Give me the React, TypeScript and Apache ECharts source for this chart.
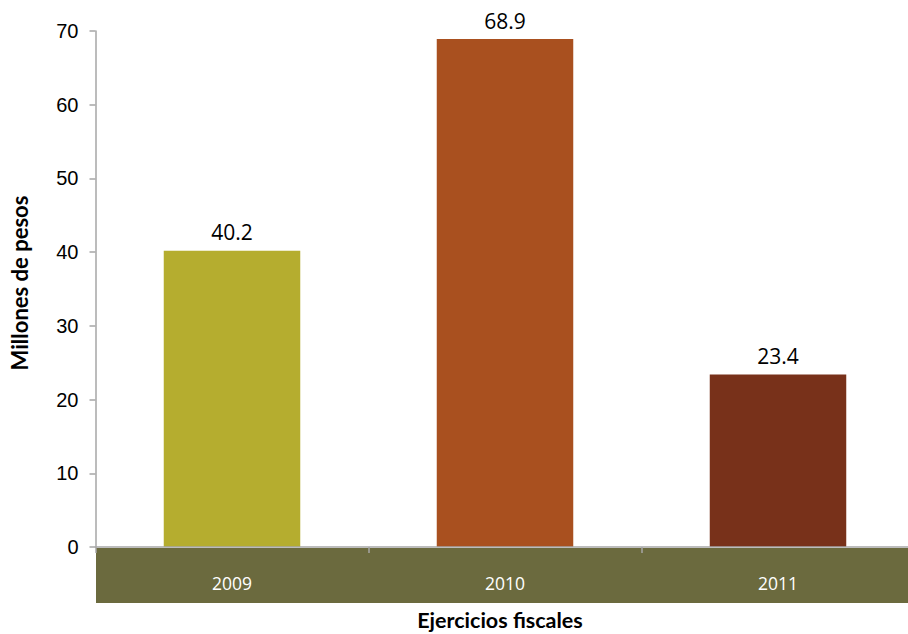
import React, { useEffect, useRef } from "react";
import * as echarts from "echarts";

const categories = ["2009", "2010", "2011"];
const values = [40.2, 68.9, 23.4];
const barColors = ["#B5AD2F", "#A9501F", "#78311A"];
const yTicks = [0, 10, 20, 30, 40, 50, 60, 70];
const xTitle = "Ejercicios fiscales";
const yTitle = "Millones de pesos";

export default function App() {
  const ref = useRef<HTMLDivElement>(null);
  useEffect(() => {
    if (!ref.current) return;
    const chart = echarts.init(ref.current, null, { renderer: "svg" });
    chart.setOption({
      animation: false,
      backgroundColor: "#ffffff",
      grid: { left: 95.5, top: 31, bottom: 87, right: 1.5, containLabel: false },
      xAxis: {
        type: "category",
        data: categories,
        z: 5,
        axisLine: { show: true, lineStyle: { color: "#a6a6a6", width: 1.5 } },
        axisTick: { show: true, length: 6, lineStyle: { color: "#a6a6a6", width: 1.5 } },
        axisLabel: {
          color: "#ffffff",
          fontFamily: "Open Sans",
          fontSize: 17.5,
          margin: 27,
        },
      },
      yAxis: {
        type: "value",
        min: yTicks[0],
        max: yTicks[yTicks.length - 1],
        interval: 10,
        splitLine: { show: false },
        axisLine: { show: true, lineStyle: { color: "#a6a6a6", width: 1.5 } },
        axisTick: { show: true, length: 6, lineStyle: { color: "#a6a6a6", width: 1.5 } },
        axisLabel: {
          color: "#000000",
          fontFamily: "Liberation Sans",
          fontSize: 20,
          margin: 17,
        },
      },
      graphic: [
        {
          type: "rect",
          z: -10,
          shape: { x: 96, y: 548, width: 820, height: 55 },
          style: { fill: "#6B6A3E" },
        },
        {
          type: "text",
          x: 500,
          y: 620,
          style: {
            text: xTitle,
            fill: "#000000",
            font: "bold 21.5px Lato",
            textAlign: "center",
            textVerticalAlign: "middle",
          },
        },
        {
          type: "text",
          x: 19,
          y: 283,
          rotation: Math.PI / 2,
          style: {
            text: yTitle,
            fill: "#000000",
            font: "bold 22px Lato",
            textAlign: "center",
            textVerticalAlign: "middle",
          },
        },
      ],
      series: [
        {
          type: "bar",
          barWidth: "50%",
          data: values.map((v, i) => ({ value: v, itemStyle: { color: barColors[i] } })),
          label: {
            show: true,
            position: "top",
            distance: 8,
            color: "#000000",
            fontFamily: "Open Sans",
            fontSize: 21,
            formatter: (p: any) => p.value.toFixed(1),
          },
        },
      ],
    });
    return () => chart.dispose();
  }, []);
  return (
    <div style={{ width: 908, height: 634, position: "absolute", left: 0, top: 0, overflow: "hidden" }}>
      <div ref={ref} style={{ width: 916, height: 634 }} />
    </div>
  );
}
